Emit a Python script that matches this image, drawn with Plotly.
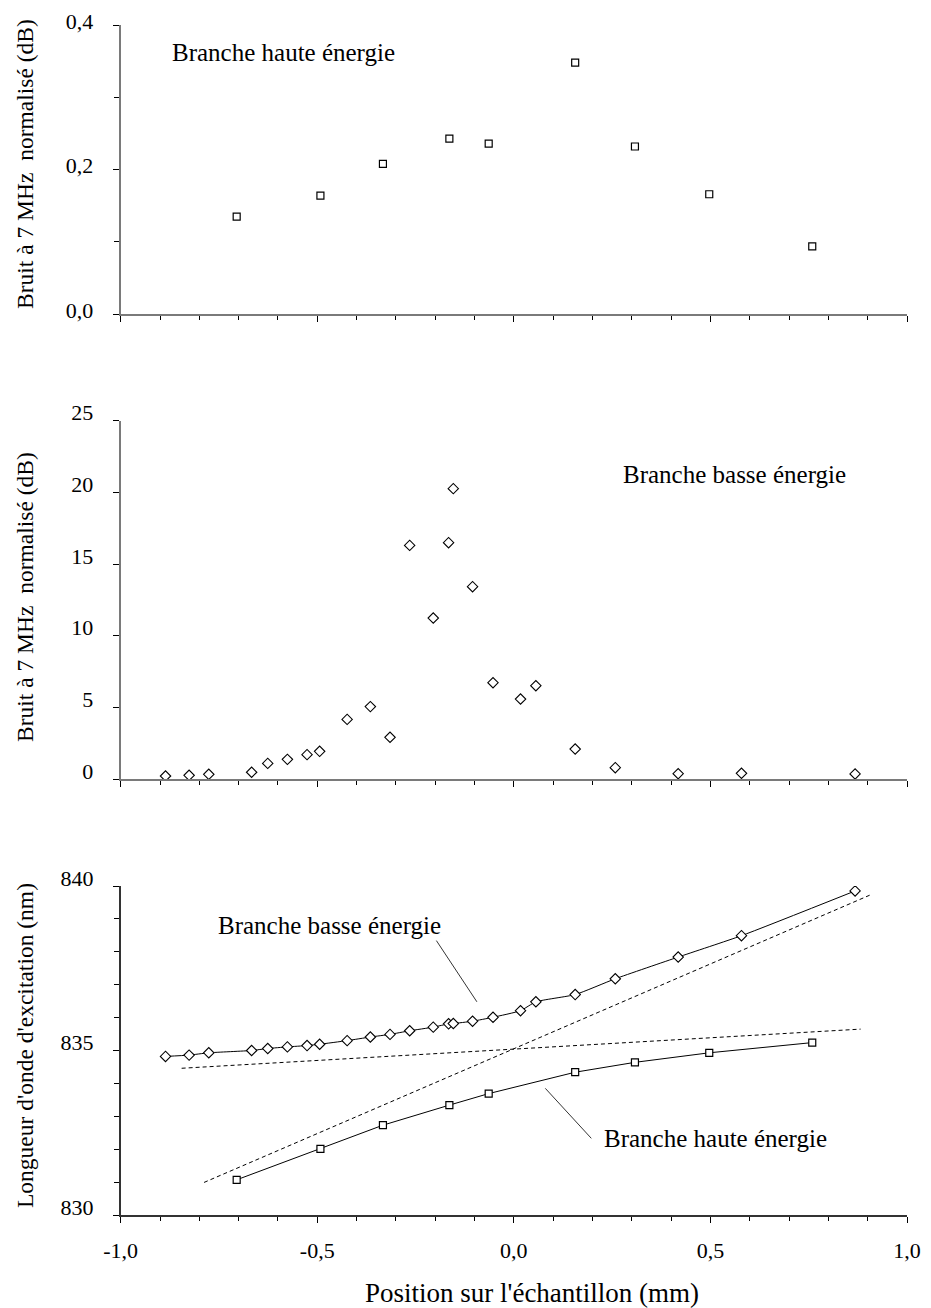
import plotly.graph_objects as go

# ---------------- data ----------------
# high-energy branch (squares)
x_haute = [-0.705, -0.492, -0.333, -0.164, -0.064, 0.156, 0.308, 0.497, 0.759]
bruit_haute = [0.135, 0.164, 0.208, 0.243, 0.236, 0.348, 0.232, 0.166, 0.094]
lambda_haute = [831.07, 832.01, 832.73, 833.34, 833.69, 834.34, 834.64, 834.93, 835.24]

# low-energy branch (diamonds)
x_basse = [-0.886, -0.826, -0.776, -0.667, -0.626, -0.576, -0.526, -0.494, -0.424,
           -0.365, -0.315, -0.265, -0.205, -0.166, -0.154, -0.105, -0.053, 0.017,
           0.056, 0.156, 0.258, 0.418, 0.579, 0.868]
bruit_basse = [0.21, 0.26, 0.33, 0.47, 1.09, 1.37, 1.70, 1.93, 4.16,
               5.05, 2.91, 16.30, 11.23, 16.49, 20.26, 13.42, 6.72, 5.58,
               6.51, 2.09, 0.79, 0.37, 0.40, 0.35]
lambda_basse = [834.82, 834.86, 834.93, 835.00, 835.06, 835.11, 835.15, 835.19, 835.30,
                835.41, 835.49, 835.60, 835.71, 835.81, 835.82, 835.89, 836.01, 836.21,
                836.48, 836.70, 837.18, 837.84, 838.49, 839.85]

# uncoupled (dashed) lines
diag_x = [-0.788, 0.905]
diag_y = [830.99, 839.72]
flat_x = [-0.845, 0.882]
flat_y = [834.46, 835.65]

# leader lines for the labels in the bottom panel
leader_basse_x = [-0.197, -0.094]
leader_basse_y = [838.34, 836.48]
leader_haute_x = [0.080, 0.197]
leader_haute_y = [833.85, 832.33]

# tick labels
x_tickvals = [-1.0, -0.5, 0.0, 0.5, 1.0]
x_ticktext = ["-1,0", "-0,5", "0,0", "0,5", "1,0"]
y1_tickvals = [0.0, 0.2, 0.4]
y1_ticktext = ["0,0", "0,2", "0,4"]
y2_tickvals = [0, 5, 10, 15, 20, 25]
y2_ticktext = ["0", "5", "10", "15", "20", "25"]
y3_tickvals = [830, 835, 840]
y3_ticktext = ["830", "835", "840"]

FONT = "Liberation Serif"
W, H = 931, 1308
OFF = 8  # page body margin: the figure is drawn 8 px right and down


def px_x(p):
    return (p - OFF) / W


def px_y(p):
    return 1 - (p - OFF) / H


xdom = [px_x(120.7), px_x(907.0)]


def ydom(top_px, bot_px):
    return [px_y(bot_px), px_y(top_px)]


fig = go.Figure()

sq = dict(symbol="square", size=7, color="white", line=dict(color="black", width=1.2))
di = dict(symbol="diamond", size=8, color="white", line=dict(color="black", width=1.1))

# top panel
fig.add_trace(go.Scatter(x=x_haute, y=bruit_haute, mode="markers", marker=sq,
                         xaxis="x", yaxis="y", showlegend=False))
# middle panel
fig.add_trace(go.Scatter(x=x_basse, y=bruit_basse, mode="markers", marker=di,
                         xaxis="x2", yaxis="y2", showlegend=False))
# bottom panel
fig.add_trace(go.Scatter(x=diag_x, y=diag_y, mode="lines",
                         line=dict(color="black", width=1, dash="4px,3px"),
                         xaxis="x3", yaxis="y3", showlegend=False))
fig.add_trace(go.Scatter(x=flat_x, y=flat_y, mode="lines",
                         line=dict(color="black", width=1, dash="4px,3px"),
                         xaxis="x3", yaxis="y3", showlegend=False))
fig.add_trace(go.Scatter(x=leader_basse_x, y=leader_basse_y, mode="lines",
                         line=dict(color="black", width=0.8),
                         xaxis="x3", yaxis="y3", showlegend=False))
fig.add_trace(go.Scatter(x=leader_haute_x, y=leader_haute_y, mode="lines",
                         line=dict(color="black", width=0.8),
                         xaxis="x3", yaxis="y3", showlegend=False))
fig.add_trace(go.Scatter(x=x_basse, y=lambda_basse, mode="lines+markers",
                         line=dict(color="black", width=1, shape="spline", smoothing=0.5),
                         marker=di, xaxis="x3", yaxis="y3", showlegend=False))
fig.add_trace(go.Scatter(x=x_haute, y=lambda_haute, mode="lines+markers",
                         line=dict(color="black", width=1),
                         marker=sq, xaxis="x3", yaxis="y3", showlegend=False))

tickfont = dict(family=FONT, size=22, color="black")


def xaxis_main(anchor, labels, linecolor, linewidth):
    return dict(domain=xdom, anchor=anchor, range=[-1, 1], showgrid=False, zeroline=False,
                showline=True, linecolor=linecolor, linewidth=linewidth,
                ticks="outside", ticklen=6, tickwidth=1, tickcolor="black",
                tickvals=x_tickvals, ticktext=x_ticktext, showticklabels=labels,
                tickfont=tickfont, ticklabelstandoff=9, ticklabeloverflow="allow",
                minor=dict(tick0=0, dtick=0.1, ticks="outside", ticklen=4,
                           tickwidth=1, tickcolor="black", showgrid=False))


def xaxis_overlay(over, anchor):
    return dict(overlaying=over, anchor=anchor, range=[-1, 1], showgrid=False,
                zeroline=False, showline=False, ticks="inside", ticklen=6,
                tickwidth=1, tickcolor="black", tickvals=x_tickvals,
                showticklabels=False,
                minor=dict(tick0=0, dtick=0.1, ticks="inside", ticklen=4,
                           tickwidth=1, tickcolor="black", showgrid=False))


def yaxis_main(anchor, dom, rng, tv, tt, minor_dtick, linecolor, linewidth, shift=-8):
    d = dict(domain=dom, anchor=anchor, range=rng, showgrid=False, zeroline=False,
             showline=True, linecolor=linecolor, linewidth=linewidth,
             ticks="outside", ticklen=6, tickwidth=1, tickcolor="black",
             tickvals=tv, ticktext=tt, tickfont=tickfont,
             ticklabelstandoff=15, ticklabelshift=shift, ticklabeloverflow="allow")
    if minor_dtick:
        d["minor"] = dict(tick0=rng[0], dtick=minor_dtick, ticks="outside", ticklen=5,
                          tickwidth=1, tickcolor="black", showgrid=False)
    return d


fig.update_layout(
    width=W, height=H, margin=dict(l=0, r=0, t=0, b=0, autoexpand=False),
    paper_bgcolor="white", plot_bgcolor="white",
    font=dict(family=FONT, color="black"),
    xaxis=xaxis_main("y", False, "#7a7a7a", 2),
    xaxis2=xaxis_main("y2", False, "#7a7a7a", 2),
    xaxis3=xaxis_main("y3", True, "#333333", 1.5),
    xaxis4=xaxis_overlay("x", "y"),
    xaxis5=xaxis_overlay("x2", "y2"),
    xaxis6=xaxis_overlay("x3", "y3"),
    yaxis=yaxis_main("x", ydom(25, 314.3), [0, 0.4], y1_tickvals, y1_ticktext, 0.1,
                     "#7a7a7a", 2, shift=-4),
    yaxis2=yaxis_main("x2", ydom(420.7, 779), [0, 25], y2_tickvals, y2_ticktext, None,
                      "#7a7a7a", 2),
    yaxis3=yaxis_main("x3", ydom(886, 1215), [830, 840], y3_tickvals, y3_ticktext, 1,
                      "#333333", 1.5),
)

ann_font = dict(family=FONT, size=25, color="black")
title_font = dict(family=FONT, size=23.5, color="black")
fig.add_annotation(text="Branche haute énergie", x=-0.587, y=0.362, xref="x", yref="y",
                   showarrow=False, font=ann_font, xanchor="center", yanchor="middle")
fig.add_annotation(text="Branche basse énergie", x=0.560, y=21.28, xref="x2", yref="y2",
                   showarrow=False, font=ann_font, xanchor="center", yanchor="middle")
fig.add_annotation(text="Branche basse énergie", x=-0.470, y=838.81, xref="x3", yref="y3",
                   showarrow=False, font=ann_font, xanchor="center", yanchor="middle")
fig.add_annotation(text="Branche haute énergie", x=0.514, y=832.34, xref="x3", yref="y3",
                   showarrow=False, font=ann_font, xanchor="center", yanchor="middle")

for txt, cy in [("Bruit à 7 MHz  normalisé (dB)", 164),
                ("Bruit à 7 MHz  normalisé (dB)", 597),
                ("Longueur d'onde d'excitation (nm)", 1046)]:
    fig.add_annotation(text=txt, x=px_x(25), y=px_y(cy), xref="paper", yref="paper",
                       textangle=-90, showarrow=False, font=title_font,
                       xanchor="center", yanchor="middle")
fig.add_annotation(text="Position sur l'échantillon (mm)", x=px_x(531.7), y=px_y(1293),
                   xref="paper", yref="paper", showarrow=False,
                   xanchor="center", yanchor="middle",
                   font=dict(family=FONT, size=27, color="black"))

fig.write_html("out.html")
